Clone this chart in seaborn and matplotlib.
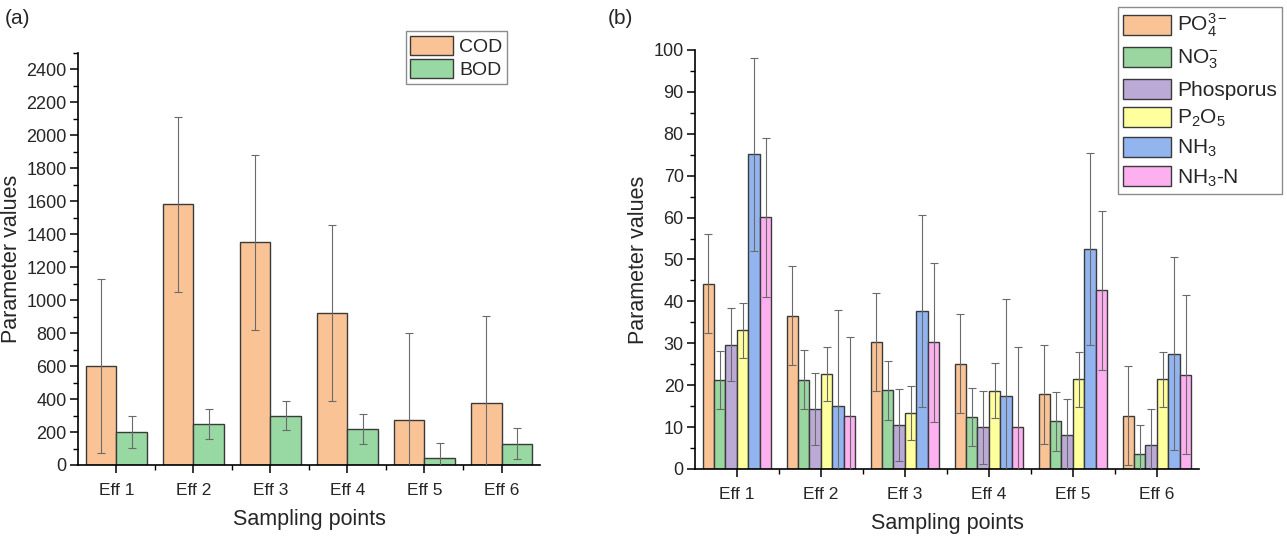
import numpy as np
import pandas as pd
import seaborn as sns
import matplotlib
matplotlib.use("Agg")
import matplotlib.pyplot as plt
from matplotlib.ticker import MultipleLocator, FixedLocator

# data
sites = ["Eff 1", "Eff 2", "Eff 3", "Eff 4", "Eff 5", "Eff 6"]

cod = [600, 1580, 1350, 920, 270, 375]
cod_err = [530, 530, 530, 535, 530, 530]
bod = [200, 250, 300, 220, 40, 130]
bod_err = [95, 92, 90, 92, 92, 92]

po4 = [44.2, 36.6, 30.3, 25.1, 17.8, 12.7]
po4_err = [11.8, 11.8, 11.8, 11.8, 11.8, 11.8]
no3 = [21.2, 21.3, 18.8, 12.4, 11.4, 3.5]
no3_err = [7.0, 7.0, 7.0, 7.0, 7.0, 7.0]
phos = [29.7, 14.4, 10.4, 9.9, 8.1, 5.8]
phos_err = [8.6, 8.6, 8.6, 8.6, 8.6, 8.6]
p2o5 = [33.1, 22.7, 13.3, 18.7, 21.4, 21.4]
p2o5_err = [6.5, 6.5, 6.5, 6.5, 6.5, 6.5]
nh3 = [75.1, 15.0, 37.7, 17.5, 52.5, 27.5]
nh3_err = [23.0, 23.0, 23.0, 23.0, 23.0, 23.0]
nh3n = [60.1, 12.6, 30.2, 10.1, 42.6, 22.5]
nh3n_err = [19.0, 19.0, 19.0, 19.0, 19.0, 19.0]

left_names = ["COD", "BOD"]
left_vals = [cod, bod]
left_errs = [cod_err, bod_err]
left_colors = ["#F9C396", "#98D8A2"]

right_names = [r"PO$_4^{3-}$", r"NO$_3^{-}$", "Phosporus", r"P$_2$O$_5$", r"NH$_3$", r"NH$_3$-N"]
right_vals = [po4, no3, phos, p2o5, nh3, nh3n]
right_errs = [po4_err, no3_err, phos_err, p2o5_err, nh3_err, nh3n_err]
right_colors = ["#F9C396", "#99D6A0", "#BCAAD6", "#FFFF9E", "#92B5F0", "#FDB0F0"]

sns.set_theme(style="ticks")
plt.rcParams["font.family"] = ["Liberation Sans", "DejaVu Sans"]
plt.rcParams["mathtext.fontset"] = "custom"
plt.rcParams["mathtext.rm"] = "Liberation Sans"
plt.rcParams["mathtext.it"] = "Liberation Sans:italic"
plt.rcParams["mathtext.bf"] = "Liberation Sans:bold"


def long_df(names, vals):
    rows = []
    for n, v in zip(names, vals):
        for s, y in zip(sites, v):
            rows.append({"site": s, "param": n, "value": y})
    return pd.DataFrame(rows)


def panel(ax, names, vals, errs, colors, width):
    df = long_df(names, vals)
    sns.barplot(data=df, x="site", y="value", hue="param", order=sites,
                hue_order=names, palette=colors, width=width, errorbar=None,
                edgecolor="#3a3a3a", linewidth=1.0, saturation=1, ax=ax)
    for cont, v, e in zip(ax.containers, vals, errs):
        xs = [b.get_x() + b.get_width() / 2 for b in cont]
        ax.errorbar(xs, v, yerr=e, fmt="none", ecolor="#6a6a6a",
                    elinewidth=0.8, capsize=3, capthick=0.8, zorder=3)
    ax.set_xlim(-0.5, len(sites) - 0.5)
    ax.xaxis.set_minor_locator(FixedLocator(np.arange(0.5, len(sites) - 0.5, 1)))
    for side in ["top", "right"]:
        ax.spines[side].set_visible(False)
    for side in ["left", "bottom"]:
        ax.spines[side].set_linewidth(1.2)
        ax.spines[side].set_color("black")
    ax.tick_params(which="major", direction="out", length=6, width=1.1,
                   labelsize=13, color="black")
    ax.tick_params(axis="y", which="major", pad=2)
    ax.tick_params(axis="x", which="major", labelsize=12.5, pad=7)
    ax.tick_params(which="minor", direction="out", length=3.5, width=1.0,
                   color="black")
    ax.set_xlabel("Sampling points", fontsize=15.5, labelpad=8)
    ax.set_ylabel("Parameter values", fontsize=15.5, labelpad=3)
    ax.legend_.remove()


fig = plt.figure(figsize=(12.87, 5.38), dpi=100)
ax1 = fig.add_axes([0.0605, 0.1357, 0.3591, 0.7664])
ax2 = fig.add_axes([0.540, 0.1283, 0.3916, 0.7788])

panel(ax1, left_names, left_vals, left_errs, left_colors, 0.8)
ax1.set_ylim(0, 2500)
ax1.yaxis.set_major_locator(FixedLocator(np.arange(0, 2401, 200)))
ax1.yaxis.set_minor_locator(MultipleLocator(100))
h, l = ax1.get_legend_handles_labels()
ax1.legend(h, l, loc="upper right", bbox_to_anchor=(0.929, 1.053),
           fontsize=14, frameon=True, fancybox=False, edgecolor="#8c8c8c",
           framealpha=1, handlelength=2.2, handleheight=1.15,
           labelspacing=0.15, handletextpad=0.3, borderpad=0.25,
           borderaxespad=0)

panel(ax2, right_names, right_vals, right_errs, right_colors, 0.82)
ax2.set_ylim(0, 100)
ax2.yaxis.set_major_locator(MultipleLocator(10))
ax2.yaxis.set_minor_locator(MultipleLocator(5))
h, l = ax2.get_legend_handles_labels()
ax2.legend(h, l, loc="upper right", bbox_to_anchor=(1.165, 1.103),
           fontsize=15, frameon=True, fancybox=False, edgecolor="#8c8c8c",
           framealpha=1, handlelength=2.3, handleheight=1.1,
           labelspacing=0.35, handletextpad=0.3, borderpad=0.25,
           borderaxespad=0)

fig.text(0.004, 0.965, "(a)", fontsize=15, va="center", ha="left")
fig.text(0.472, 0.965, "(b)", fontsize=15, va="center", ha="left")

fig.savefig("out.png", dpi=100)
